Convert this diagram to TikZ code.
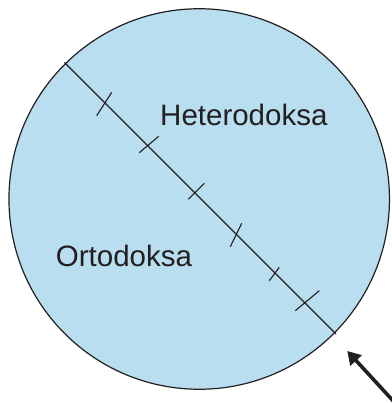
\documentclass[tikz,border=0pt]{standalone}
\usepackage{fontspec}
\setmainfont{Liberation Sans}
\usetikzlibrary{arrows.meta}
\definecolor{diskfill}{RGB}{185,222,240}
\definecolor{ink}{RGB}{35,31,32}
\begin{document}
\begin{tikzpicture}[x=1pt,y=-1pt,
  rim/.style={draw=ink,line width=1.2pt,fill=diskfill},
  chord/.style={draw=ink,line width=1.1pt},
  tick/.style={draw=ink,line width=1.1pt},
  lbl/.style={font=\fontsize{29.5}{32}\selectfont,text=ink,inner sep=0pt,anchor=base west},
  pointer/.style={draw=ink,line width=3.6pt,-{Triangle[length=13pt,width=15pt]}}]
\useasboundingbox (0,0) rectangle (391,403);
\node[rim,circle,minimum size=380.5pt,inner sep=0pt] (disk) at (199.2,199) {};
\coordinate (a) at (64.5,62.5);
\coordinate (b) at (336,334);
\draw[chord] (a) -- (b);
\draw[tick] (96.7,115.7) -- (111.7,92.3);
\draw[tick] (139.3,152.7) -- (158.7,136.3);
\draw[tick] (188.3,199.3) -- (204.3,183.3);
\draw[tick] (230.3,246.7) -- (241.7,223.3);
\draw[tick] (269.3,280.7) -- (279.3,267.3);
\draw[tick] (295.3,310.7) -- (319.3,290.7);
\node[lbl] (het) at (160,126) {Heterodoksa};
\node[lbl] (ort) at (55.7,266.7) {Ortodoksa};
\coordinate (tail) at (396,404);
\coordinate (tip) at (347.3,351);
\draw[pointer] (tail) -- (tip);
\end{tikzpicture}
\end{document}
